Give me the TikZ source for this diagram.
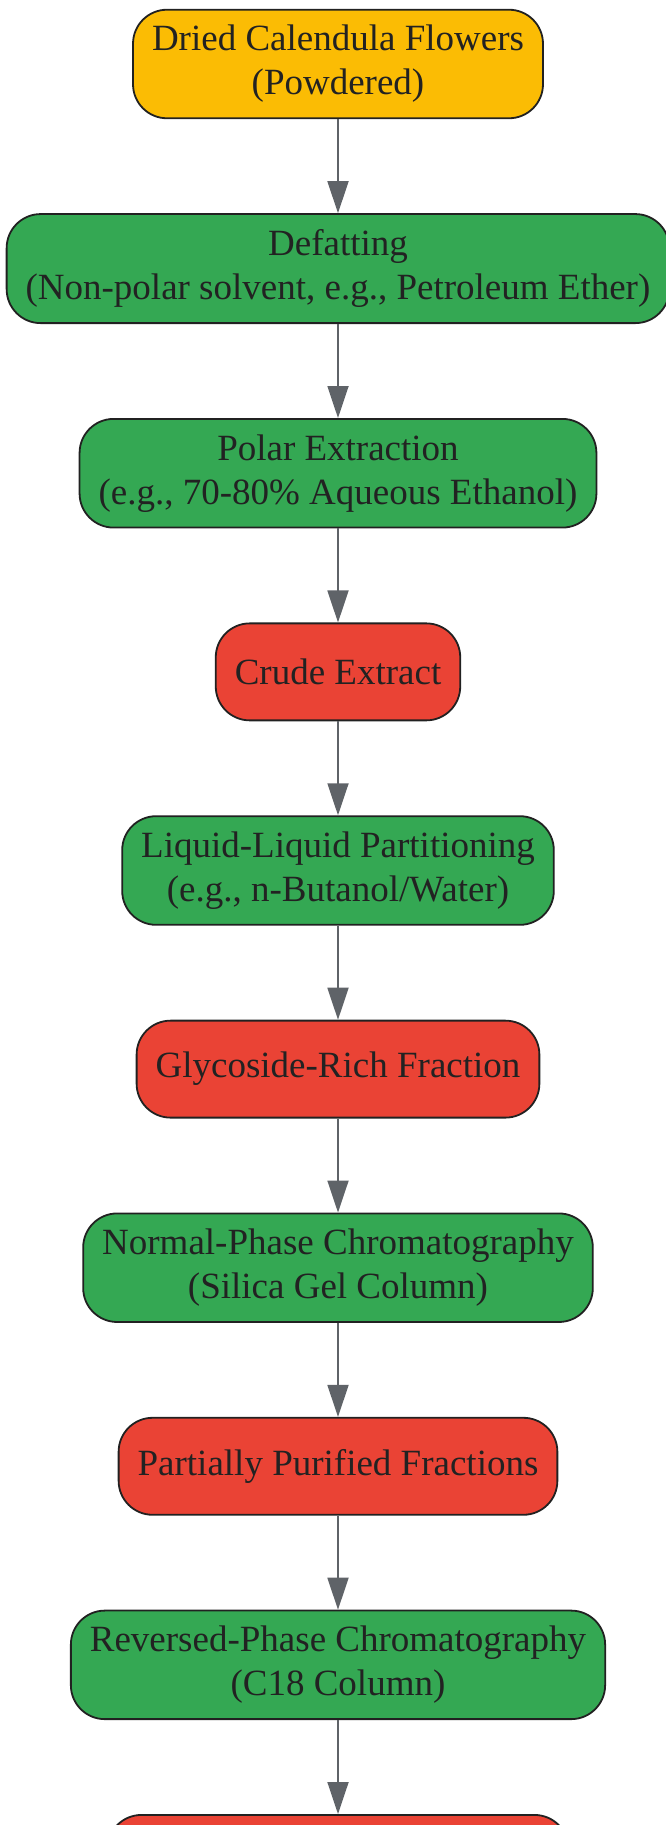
\documentclass[tikz,border=0pt]{standalone}
\usepackage{fontspec}
\setmainfont{Liberation Serif}
\usetikzlibrary{positioning,arrows.meta}

\definecolor{startfill}{HTML}{FBBC04}
\definecolor{stepfill}{HTML}{34A853}
\definecolor{resultfill}{HTML}{EA4335}
\definecolor{boxline}{HTML}{212121}
\definecolor{flowline}{HTML}{5F6368}
\definecolor{labeltext}{HTML}{222222}

\begin{document}
\begin{tikzpicture}[x=1pt,y=1pt,node distance=94pt,
  stage/.style={draw=boxline,line width=1.8pt,rounded corners=34pt,
    align=center,text=labeltext,font=\fontsize{37}{44}\selectfont,
    inner xsep=19pt,inner ysep=15.5pt,minimum height=97pt},
  source/.style={stage,fill=startfill},
  process/.style={stage,fill=stepfill},
  product/.style={stage,fill=resultfill},
  flow/.style={draw=flowline,line width=1.8pt,
    -{Triangle[length=32pt,width=21pt]}}]
  \useasboundingbox (0,0) rectangle (666,-1825);

  \node[source] (flowers) at (338,-64) {Dried Calendula Flowers\\(Powdered)};
  \node[process,below=of flowers] (defat) {Defatting\\(Non-polar solvent, e.g., Petroleum Ether)};
  \node[process,below=of defat] (polar) {Polar Extraction\\(e.g., 70-80\% Aqueous Ethanol)};
  \node[product,below=of polar] (crude) {Crude Extract};
  \node[process,below=of crude] (partition) {Liquid-Liquid Partitioning\\(e.g., n-Butanol/Water)};
  \node[product,below=of partition] (glyco) {Glycoside-Rich Fraction};
  \node[process,below=of glyco] (normal) {Normal-Phase Chromatography\\(Silica Gel Column)};
  \node[product,below=of normal] (partial) {Partially Purified Fractions};
  \node[process,below=of partial] (reversed) {Reversed-Phase Chromatography\\(C18 Column)};
  \node[product,below=of reversed,anchor=north,minimum width=461pt] (pure) {};

  \draw[flow] (flowers) -- (defat);
  \draw[flow] (defat) -- (polar);
  \draw[flow] (polar) -- (crude);
  \draw[flow] (crude) -- (partition);
  \draw[flow] (partition) -- (glyco);
  \draw[flow] (glyco) -- (normal);
  \draw[flow] (normal) -- (partial);
  \draw[flow] (partial) -- (reversed);
  \draw[flow] (reversed) -- (pure);
\end{tikzpicture}
\end{document}
